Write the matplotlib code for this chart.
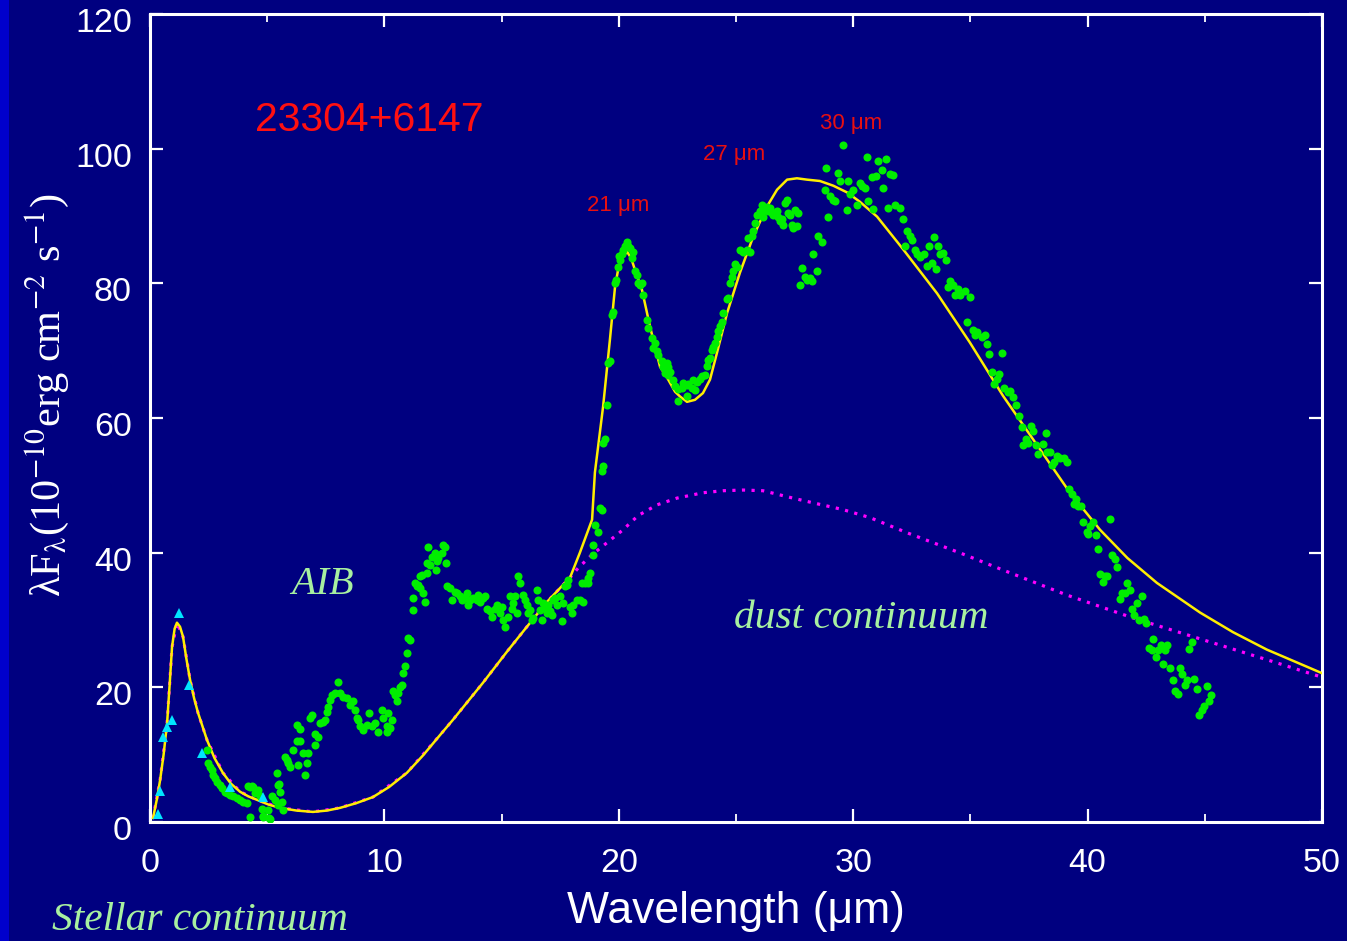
import matplotlib
matplotlib.use("Agg")
import matplotlib.pyplot as plt
from matplotlib.patches import Rectangle
from matplotlib.ticker import MultipleLocator
from matplotlib.transforms import ScaledTranslation

plt.rcParams['mathtext.fontset'] = 'stix'

NAVY = '#000080'
WHITE = 'white'

# ---- ISO/SWS spectrum (wavelength in micron, lambda*F_lambda in 1e-10 erg cm^-2 s^-1)
spec_wave = [
    2.42, 2.49, 2.56, 2.63, 2.70, 2.77, 2.84, 2.99, 3.06, 3.20, 3.27, 3.41, 3.55, 3.70, 3.84, 3.98,
    4.12, 4.19, 4.34, 4.48, 4.62, 4.69, 4.27, 4.76, 4.83, 5.05, 5.12, 5.19, 5.33, 5.47, 5.55, 5.62,
    5.69, 5.47, 5.40, 4.27, 4.41, 4.55, 4.84, 5.09, 5.52,
    5.76, 5.83, 5.90, 5.97, 6.11, 6.26, 6.40, 6.33, 6.54, 6.61, 6.68, 6.75, 6.26, 6.40, 6.83, 6.90,
    7.04, 7.18, 7.04, 7.25, 7.39, 7.46, 7.54, 7.61, 7.68, 7.75, 7.89, 8.03, 8.11, 8.25, 8.39, 8.53,
    8.67, 8.75, 8.82, 8.89, 8.96, 9.10, 9.24, 9.36, 9.46, 9.60, 9.74, 9.88, 9.95, 10.10, 10.17, 10.31,
    10.13, 10.24, 10.38, 10.45, 10.52, 10.59, 10.66, 10.74, 10.81, 10.88, 10.95, 11.02, 11.09, 11.21,
    11.23, 11.31, 11.38, 11.45, 11.52, 11.59, 11.66, 11.73, 11.80, 11.87, 11.94, 12.02, 12.16, 12.23,
    12.30, 12.44, 12.51, 12.58, 12.63, 12.20, 11.80, 11.52,
    12.66, 12.80, 12.87, 13.01, 13.08, 13.23, 13.30, 13.44, 13.51, 13.58, 13.65, 13.79, 13.94, 14.01,
    14.08, 14.22, 14.29, 14.36, 14.50, 14.58, 14.72, 14.79, 14.93, 15.00, 15.07, 15.14, 15.29, 15.36,
    15.43, 15.50, 15.57, 15.64, 15.71, 15.78, 15.93, 16.00, 16.07, 16.14, 16.21, 16.28, 16.35, 16.50,
    16.57, 16.64, 16.71, 16.78, 16.85, 16.92, 16.99, 17.06, 17.14, 17.21, 17.28, 17.35, 17.49, 17.56,
    17.63, 17.70, 17.78, 17.85, 17.92, 17.99, 18.06, 18.20, 18.34, 18.49, 18.42, 18.56, 18.70, 18.77,
    18.70, 18.91, 18.91, 19.13, 18.98,
    19.20, 19.27, 19.27, 19.34, 19.34, 19.41, 19.48, 19.55, 19.62, 19.70, 19.77, 19.84, 19.88, 19.98,
    20.05, 20.02, 20.12, 20.19, 20.26, 20.34, 20.41, 20.48, 20.59, 20.55, 20.69, 20.76, 20.83, 20.98,
    20.90, 21.05, 21.19, 21.26, 21.40, 21.55, 21.47, 21.62, 21.69, 21.83, 21.90, 22.04, 22.11, 21.97,
    22.11, 22.18, 22.33, 22.40, 22.54, 22.68, 22.75, 22.89, 22.54, 22.89, 22.97, 23.11, 23.25, 23.18,
    23.32, 23.46, 23.53, 23.68, 23.75, 23.82, 23.89, 23.96, 24.03, 24.10, 24.18, 24.25, 24.32, 24.39,
    24.46, 24.60, 24.67, 24.74, 24.82, 24.89, 24.96, 25.03, 25.17, 25.31, 25.46, 25.60, 25.53, 25.67,
    25.74, 25.81, 25.88, 26.02, 26.10, 26.17, 26.24, 26.31, 26.38, 26.45, 26.52, 26.59, 26.74, 26.81,
    26.88, 26.95, 27.02, 27.09, 27.16, 27.23, 27.30, 27.38, 27.45, 27.52, 27.59, 27.66,
    27.73, 27.80, 27.94, 28.01, 28.16, 28.23, 28.30, 28.44, 28.51, 28.66, 28.84, 28.94, 28.80, 29.01,
    29.15, 29.22, 29.37, 29.44, 29.58, 29.72, 29.79, 29.87, 30.01, 30.15, 30.29,
    30.57, 31.07, 31.40, 30.79, 30.97, 31.21, 31.57, 31.71, 30.36, 30.50, 31.29, 30.65, 30.86, 31.50,
    31.78, 31.99, 32.11, 32.31, 32.42, 32.52, 32.21, 32.64, 32.74, 32.85, 33.02, 33.13, 33.35, 33.53,
    33.23, 33.45, 33.63, 33.70, 33.85, 33.96, 34.13, 34.06, 34.27, 34.46, 34.34, 34.56, 34.77, 34.98,
    34.87, 35.10, 35.20, 35.30, 35.48, 35.62, 35.72, 35.81, 36.35, 35.92, 36.12, 36.23, 36.02, 36.43,
    36.62, 36.69, 36.80, 36.95, 37.09, 37.19, 37.26, 37.36, 37.47, 37.59, 37.68, 37.78, 37.90, 38.08,
    38.21, 38.28, 38.40, 38.48, 38.58, 38.71, 38.82, 38.99, 39.11, 39.22, 39.32, 39.43, 39.50, 39.60,
    39.70, 39.82, 40.10, 40.24, 39.96, 40.03, 40.34, 40.43, 40.96, 41.05, 41.17, 41.27, 40.53, 40.74,
    40.84, 40.64, 41.67, 41.81, 41.45, 41.60, 41.38, 42.31, 42.09, 41.88, 41.98, 42.21, 42.41, 42.49,
    42.80, 42.61, 42.73, 43.02, 43.13, 43.32, 43.40, 42.92, 43.20, 43.52, 43.94, 44.03, 44.45, 44.34,
    43.63, 43.74, 43.84, 44.15, 44.23, 44.55, 44.65, 45.08, 45.26, 45.18, 44.98, 44.87, 44.77,
]
spec_flux = [
    10.7, 8.7, 8.2, 7.7, 7.0, 6.5, 6.0, 5.5, 5.0, 4.5, 4.3, 4.0, 3.8, 3.5, 3.3, 3.0,
    2.8, 5.3, 5.3, 4.3, 4.8, 3.8, 0.8, 1.9, 0.9, 1.8, 0.5, 3.8, 3.3, 2.5, 4.5, 3.0,
    1.8, 5.5, 7.3, 5.2, 5.2, 4.5, 0.8, 0.6, 5.6,
    9.7, 9.2, 8.7, 8.2, 10.7, 12.1, 12.1, 8.5, 10.2, 7.0, 8.7, 10.2, 14.4, 13.8, 15.4, 15.9,
    13.1, 12.6, 11.4, 14.7, 14.9, 15.2, 16.4, 17.1, 18.1, 18.8, 19.1, 20.8, 19.1, 18.6, 18.4, 17.4,
    17.9, 16.6, 15.4, 15.2, 14.2, 13.7, 14.4, 16.2, 14.2, 14.7, 13.4, 16.6, 15.4, 14.2, 16.2, 15.2,
    13.4, 13.9, 19.4, 18.9, 17.9, 19.1, 20.1, 20.4, 22.1, 23.1, 25.1, 27.3, 27.0, 31.5,
    33.2, 35.5, 35.0, 35.2, 34.7, 36.7, 34.0, 32.7, 37.0, 40.9, 38.2, 39.4, 39.9, 38.7,
    39.2, 39.9, 41.2, 40.9, 38.4, 37.4, 38.4, 36.5,
    35.0, 34.7, 33.0, 34.2, 34.0, 33.5, 33.0, 33.2, 34.0, 32.2, 33.0, 33.2, 33.0, 33.7,
    32.7, 33.2, 33.5, 31.7, 31.3, 30.5, 31.7, 32.2, 31.0, 32.0, 30.0, 29.0, 30.5, 33.5,
    31.7, 32.5, 33.5, 31.0, 36.5, 35.5, 33.7, 33.0, 32.2, 31.0, 31.5, 30.0, 30.3, 34.5,
    33.0, 31.5, 30.0, 32.5, 31.7, 31.0, 32.2, 31.3, 30.8, 33.0, 33.2, 32.2, 33.5, 29.8,
    32.5, 35.0, 35.2, 36.0, 32.0, 31.0, 32.2, 33.0, 33.0, 32.7, 35.5, 35.5, 35.5, 37.0,
    36.2, 39.7, 41.2, 43.1, 44.1,
    46.6, 46.4, 52.1, 52.9, 56.3, 56.9, 61.9, 68.2, 68.4, 75.3, 75.8, 80.0, 80.5, 82.5,
    83.5, 84.1, 84.3, 85.0, 85.6, 86.2, 85.5, 85.2, 84.7, 83.8, 81.8, 81.3, 80.0, 80.0,
    79.8, 78.2, 74.6, 73.4, 71.9, 71.1, 70.4, 69.9, 69.4, 68.4, 67.6, 68.2, 67.6, 66.7,
    66.4, 66.9, 65.7, 64.7, 64.3, 64.4, 65.2, 64.9, 62.5, 63.3, 65.1, 64.4, 64.2, 65.7,
    65.4, 65.8, 66.2, 66.4, 67.7, 68.6, 68.9, 70.1, 70.6, 71.1, 72.1, 72.9, 73.6, 74.3,
    75.6, 77.6, 77.8, 80.0, 81.0, 81.8, 82.8, 82.5, 85.0, 84.7, 85.0, 84.7, 86.7, 87.0,
    87.7, 89.0, 90.2, 90.7, 91.7, 89.9, 90.9, 91.4, 90.7, 91.2, 90.4, 90.2, 90.7, 89.9,
    89.2, 89.5, 88.7, 91.9, 92.4, 90.4, 90.2, 88.7, 88.2, 90.9, 88.5, 90.4,
    79.8, 82.3, 81.0, 80.5, 80.8, 80.3, 84.3, 81.8, 87.0, 86.2, 97.1, 89.9, 93.9, 92.9,
    92.4, 92.2, 96.4, 95.2, 100.6, 90.9, 95.2, 93.2, 93.9, 91.7, 94.9,
    98.7, 98.1, 98.5, 95.8, 96.0, 96.8, 96.2, 96.1, 94.4, 94.2, 94.1, 92.3, 91.0, 91.2,
    91.7, 91.2, 89.5, 87.8, 87.1, 86.4, 85.6, 84.9, 84.3, 83.9, 84.3, 82.6, 83.0, 82.1,
    85.5, 86.9, 85.5, 84.3, 84.5, 83.5, 80.4, 79.5, 79.7, 79.2, 78.2, 78.3, 78.9, 78.0,
    74.2, 73.1, 72.4, 72.8, 72.0, 72.3, 71.0, 69.5, 69.7, 66.9, 65.8, 66.5, 65.1, 64.5,
    63.8, 64.0, 63.1, 61.9, 60.3, 58.6, 56.0, 56.9, 56.3, 58.8, 58.0, 56.0, 54.7, 56.1,
    57.7, 55.0, 55.0, 53.0, 53.4, 54.4, 54.1, 54.1, 53.5, 49.5, 48.7, 47.3, 48.0, 47.0,
    46.9, 44.5, 43.9, 44.6, 43.0, 42.8, 42.6, 40.5, 45.0, 39.7, 39.1, 37.8, 36.8, 36.5,
    36.5, 35.6, 35.5, 34.5, 34.0, 34.0, 33.1, 33.6, 32.5, 31.6, 30.8, 30.0, 30.1, 29.6,
    27.2, 25.9, 25.6, 25.6, 26.3, 25.5, 26.3, 24.5, 23.4, 22.8, 22.8, 22.0, 26.8, 25.7,
    21.1, 19.5, 19.0, 20.3, 21.1, 21.2, 19.7, 20.2, 18.8, 18.0, 17.3, 16.6, 15.9,
]

# ---- near-IR photometry
phot_wave = [0.34, 0.43, 0.55, 0.73, 0.94, 1.24, 1.66, 2.22, 3.41, 4.82]
phot_flux = [1.2, 4.6, 12.6, 14.1, 15.2, 31.1, 20.4, 10.3, 5.2, 3.7]

# ---- total model (star + dust)
model_wave = [0.13, 0.30, 0.43, 0.58, 0.73, 0.84, 0.94, 1.05, 1.15, 1.28, 1.41, 1.55, 1.71, 1.88,
              2.05, 2.43, 2.75, 3.11, 3.45, 3.84, 4.20, 4.56, 5.05, 5.55, 6.25, 6.95,
              7.55, 8.11, 8.80, 9.51, 10.20, 10.96, 11.65, 12.37, 12.93, 14.21, 15.23, 16.08,
              16.94, 17.70, 17.92, 18.34,
              18.86, 18.98, 19.33, 19.62, 19.84, 19.97, 20.15, 20.35, 20.52, 20.69, 20.99, 21.33,
              21.76, 22.06, 22.40, 22.61, 22.91, 23.25, 23.59, 23.89, 24.19, 24.62, 25.17, 25.73,
              26.32, 26.75, 27.18, 27.60, 28.03, 28.58, 29.15, 29.74, 30.29, 31.02, 32.12, 33.58,
              34.98, 36.39, 37.84, 39.25, 40.53, 41.70, 42.96, 44.80, 46.20, 47.65, 50.0]
model_flux = [0.6, 3.5, 6.2, 10.0, 14.7, 20.5, 26.0, 28.7, 29.6, 29.0, 27.5, 24.3, 21.1, 18.4,
              16.2, 12.2, 9.5, 7.3, 5.7, 4.5, 3.8, 3.3, 2.6, 2.1, 1.7, 1.5,
              1.7, 2.1, 2.8, 3.7, 5.2, 7.3, 9.9, 12.9, 15.2, 20.7, 25.3, 29.0,
              32.7, 35.5, 36.3, 40.0,
              44.9, 51.9, 61.7, 71.6, 79.5, 82.0, 83.8, 84.7, 83.8, 82.0, 79.0, 73.6,
              67.6, 66.0, 63.9, 63.2, 62.4, 62.7, 63.7, 65.7, 69.7, 75.6, 81.6, 86.9,
              91.4, 93.9, 95.4, 95.6, 95.4, 95.2, 94.5, 93.5, 92.1, 89.9, 85.1, 78.5,
              71.2, 63.3, 56.0, 48.9, 43.4, 39.2, 35.5, 31.1, 28.2, 25.6, 22.1]

# ---- continuum (stellar + dust, no features)
cont_wave = [0.13, 0.43, 0.73, 0.94, 1.15, 1.41, 1.71, 2.05, 2.43, 3.11, 3.84, 4.56, 5.55, 6.95,
             8.11, 9.51, 10.96, 12.37, 12.93, 14.21, 15.23, 16.08, 16.94, 17.70, 17.92,
             18.26, 18.86, 19.54, 20.18, 20.82, 21.63, 22.48, 23.59, 24.45, 25.30, 26.15, 27.43,
             28.29, 29.56, 30.72, 32.34, 34.68, 36.26, 39.12, 41.94, 44.80, 47.65, 50.0]
cont_flux = [0.6, 6.2, 14.7, 26.0, 29.6, 27.5, 21.1, 16.2, 12.2, 7.3, 4.5, 3.3, 2.1, 1.5,
             2.1, 3.7, 7.3, 12.9, 15.2, 20.7, 25.3, 29.0, 32.7, 35.5, 36.3,
             37.7, 39.7, 41.6, 43.4, 45.5, 47.1, 48.1, 48.9, 49.2, 49.3, 49.2, 48.1,
             47.4, 46.4, 45.2, 42.9, 39.8, 37.6, 33.7, 30.3, 27.2, 24.1, 21.5]

feature_labels = ['21 μm', '27 μm', '30 μm']
feature_pos = [(19.97, 91.6), (24.9, 99.2), (29.9, 103.7)]

fig = plt.figure(figsize=(13.47, 9.41), dpi=100, facecolor=NAVY)
fig.patches.append(Rectangle((0, 0), 9 / 1347, 1, transform=fig.transFigure,
                             facecolor='#0000cc', edgecolor='none', zorder=-1))

ax = fig.add_axes([150 / 1347, 1 - 822 / 941, 1172 / 1347, 808 / 941], facecolor=NAVY)
ax.set_xlim(0, 50)
ax.set_ylim(0, 120)

ax.plot(cont_wave, cont_flux, color='#ff00ff', lw=2.3, linestyle=(0, (1, 2)), zorder=2)
ax.plot(model_wave, model_flux, color='#ffee00', lw=1.8, zorder=3)
ax.plot(spec_wave, spec_flux, linestyle='none', marker='o', ms=5.8, mew=0,
        color='#00ee00', zorder=4)
ax.plot(phot_wave, phot_flux, linestyle='none', marker='^', ms=7.5, mew=0,
        color='#00e5ff', zorder=5)

for s in ax.spines.values():
    s.set_color(WHITE)
    s.set_linewidth(2.2)

ax.xaxis.set_major_locator(MultipleLocator(10))
ax.xaxis.set_minor_locator(MultipleLocator(5))
ax.yaxis.set_major_locator(MultipleLocator(20))
ax.tick_params(which='both', direction='in', colors=WHITE, top=True, right=True)
ax.tick_params(which='major', length=9.5, width=1.6, labelsize=24.5, labelcolor=WHITE)
ax.tick_params(which='minor', length=6, width=1.3)
ax.tick_params(axis='x', which='major', pad=19)
ax.tick_params(axis='y', which='major', pad=13)
for lab in ax.get_xticklabels() + ax.get_yticklabels():
    lab.set_fontfamily('Liberation Sans')
# y tick numbers sit a little below their tick marks
shift = ScaledTranslation(0, -6 / 100, fig.dpi_scale_trans)
for tk in ax.yaxis.get_major_ticks():
    tk.label1.set_transform(tk.label1.get_transform() + shift)

ax.set_xlabel('Wavelength (μm)', fontsize=32, color=WHITE, fontfamily='Liberation Sans',
              labelpad=8)
fig.text(48 / 1347, 1 - 395 / 941,
         r'λF$_{\mathrm{λ}}$(10$^{\mathrm{-10}}$erg cm$^{\mathrm{-2}}$ s$^{\mathrm{-1}}$)',
         rotation=90, ha='center', va='center', fontsize=30.5, color=WHITE,
         fontfamily='Liberation Serif')

ax.text(4.5, 104.2, '23304+6147', color='#ff1010', fontsize=29.4,
        fontfamily='Liberation Sans', ha='left', va='center')
for lab, (xx, yy) in zip(feature_labels, feature_pos):
    ax.text(xx, yy, lab, color='#e81010', fontsize=16, fontfamily='Liberation Sans',
            ha='center', va='center')

light_green = '#a8f0a0'
ax.text(7.35, 35.2, 'AIB', color=light_green, fontsize=29, style='italic',
        fontfamily='Liberation Serif', ha='center', va='center')
ax.text(30.33, 30.2, 'dust continuum', color=light_green, fontsize=29.8, style='italic',
        fontfamily='Liberation Serif', ha='center', va='center')
fig.text(52 / 1347, 1 - 921 / 941, 'Stellar continuum', color=light_green, fontsize=29.8,
         style='italic', fontfamily='Liberation Serif', ha='left', va='center')

fig.savefig('out.png', dpi=100, facecolor=NAVY)
